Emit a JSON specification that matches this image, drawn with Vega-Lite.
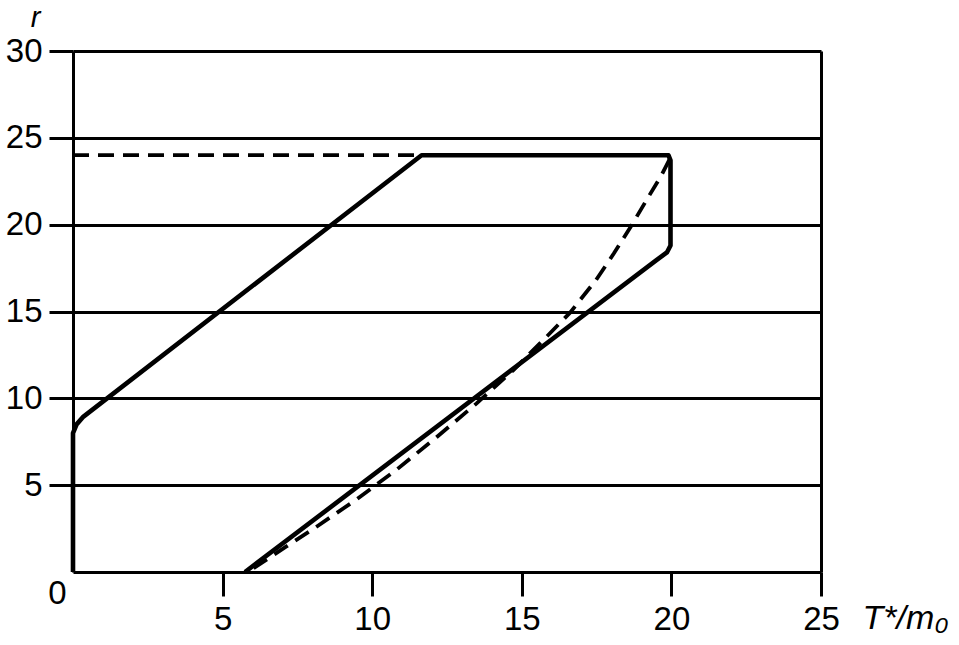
{
  "$schema": "https://vega.github.io/schema/vega-lite/v6.json",
  "width": 748,
  "height": 521,
  "autosize": {"type": "none"},
  "padding": {"left": 73, "top": 51, "right": 138, "bottom": 73},
  "background": "white",
  "config": {
    "view": {"stroke": null},
    "font": "Liberation Sans",
    "axis": {
      "domainColor": "black",
      "domainWidth": 3,
      "tickColor": "black",
      "tickWidth": 3,
      "tickSize": 24,
      "labelColor": "black",
      "labelFont": "Liberation Sans",
      "labelFontSize": 33,
      "gridColor": "black",
      "gridWidth": 3,
      "gridOpacity": 1,
      "titleColor": "black",
      "titleFont": "Liberation Sans",
      "titleFontWeight": "normal",
      "titleFontStyle": "italic",
      "titleFontSize": 34
    }
  },
  "data": {
    "values": [
      {"series": "solid", "order": 1, "x": 0, "y": 0},
      {"series": "solid", "order": 2, "x": 0, "y": 8},
      {"series": "solid", "order": 3, "x": 0.12, "y": 8.5},
      {"series": "solid", "order": 4, "x": 0.35, "y": 8.95},
      {"series": "solid", "order": 5, "x": 11.65, "y": 24},
      {"series": "solid", "order": 6, "x": 19.9, "y": 24},
      {"series": "solid", "order": 7, "x": 19.97, "y": 23.7},
      {"series": "solid", "order": 8, "x": 19.97, "y": 18.8},
      {"series": "solid", "order": 9, "x": 19.85, "y": 18.4},
      {"series": "solid", "order": 10, "x": 19.5, "y": 17.96},
      {"series": "solid", "order": 11, "x": 5.75, "y": 0},
      {"series": "dashed", "order": 1, "x": 0, "y": 24},
      {"series": "dashed", "order": 2, "x": 19.9, "y": 24},
      {"series": "dashed", "order": 3, "x": 19.95, "y": 23.8},
      {"series": "dashed", "order": 4, "x": 19.67, "y": 22.85},
      {"series": "dashed", "order": 5, "x": 19.17, "y": 21.42},
      {"series": "dashed", "order": 6, "x": 18.64, "y": 19.88},
      {"series": "dashed", "order": 7, "x": 18.08, "y": 18.35},
      {"series": "dashed", "order": 8, "x": 17.48, "y": 16.81},
      {"series": "dashed", "order": 9, "x": 16.62, "y": 14.95},
      {"series": "dashed", "order": 10, "x": 15.83, "y": 13.55},
      {"series": "dashed", "order": 11, "x": 14.72, "y": 11.63},
      {"series": "dashed", "order": 12, "x": 13.49, "y": 9.71},
      {"series": "dashed", "order": 13, "x": 12.17, "y": 7.79},
      {"series": "dashed", "order": 14, "x": 10.8, "y": 5.87},
      {"series": "dashed", "order": 15, "x": 9.45, "y": 4.15},
      {"series": "dashed", "order": 16, "x": 7.98, "y": 2.42},
      {"series": "dashed", "order": 17, "x": 7.12, "y": 1.46},
      {"series": "dashed", "order": 18, "x": 5.85, "y": 0}
    ]
  },
  "encoding": {
    "x": {
      "field": "x",
      "type": "quantitative",
      "scale": {"domain": [0, 25], "nice": false, "zero": false},
      "axis": {
        "values": [0, 5, 10, 15, 20, 25],
        "grid": true,
        "gridOpacity": {"condition": {"test": "datum.value === 25", "value": 1}, "value": 0},
        "tickOpacity": {"condition": {"test": "datum.value === 0", "value": 0}, "value": 1},
        "labelAlign": {"condition": {"test": "datum.value === 0", "value": "right"}, "value": "center"},
        "labelOffset": {"condition": {"test": "datum.value === 0", "value": -7}, "value": 0},
        "labelPadding": {"condition": {"test": "datum.value === 0", "value": -19}, "value": 7},
        "labelBaseline": "top",
        "labelFlush": false,
        "labelBound": false,
        "title": "T*/m₀",
        "titleAnchor": "start",
        "titleAlign": "left",
        "titleBaseline": "top",
        "titleX": 789,
        "titleY": 29
      }
    },
    "y": {
      "field": "y",
      "type": "quantitative",
      "scale": {"domain": [0, 30], "nice": false, "zero": false},
      "axis": {
        "values": [5, 10, 15, 20, 25, 30],
        "grid": true,
        "labelPadding": 7,
        "labelBaseline": "middle",
        "labelFlush": false,
        "labelBound": false,
        "title": "r",
        "titleFontSize": 29,
        "titleAngle": 0,
        "titleAlign": "center",
        "titleBaseline": "middle",
        "titleX": -38,
        "titleY": -34
      }
    },
    "order": {"field": "order", "type": "quantitative"}
  },
  "layer": [
    {
      "transform": [{"filter": "datum.series === 'dashed'"}],
      "mark": {"type": "line", "color": "black", "strokeWidth": 3.8, "strokeDash": [16, 9], "strokeCap": "butt"}
    },
    {
      "transform": [{"filter": "datum.series === 'solid'"}],
      "mark": {"type": "line", "color": "black", "strokeWidth": 4.6, "strokeJoin": "round", "strokeCap": "butt"}
    }
  ]
}
